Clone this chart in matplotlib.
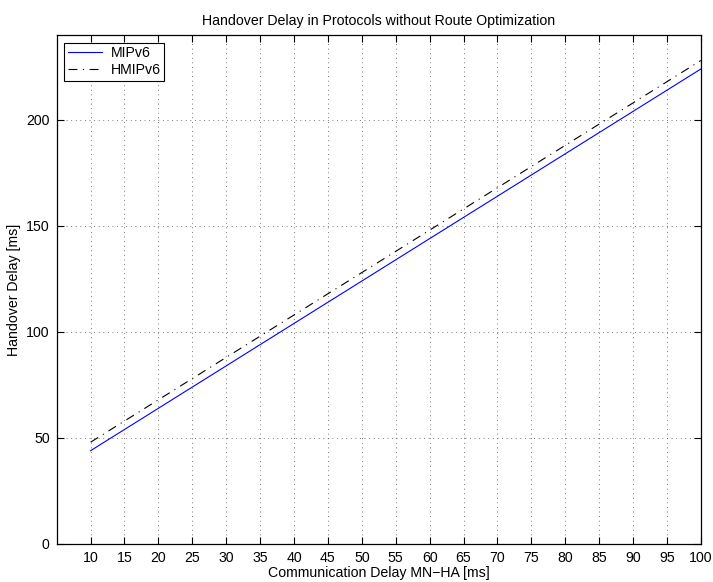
import matplotlib
matplotlib.use("Agg")
import matplotlib.pyplot as plt

plt.rcParams['font.family'] = ['Liberation Sans', 'DejaVu Sans']

# Communication delay MN-HA [ms]
comm_delay = [10, 20, 30, 40, 50, 60, 70, 80, 90, 100]
# Handover delay [ms]
mipv6 = [44, 64, 84, 104, 124, 144, 164, 184, 204, 224]
hmipv6 = [48, 68, 88, 108, 128, 148, 168, 188, 208, 228]

x_ticks = [10, 15, 20, 25, 30, 35, 40, 45, 50, 55, 60, 65, 70, 75, 80, 85, 90, 95, 100]
y_ticks = [0, 50, 100, 150, 200]

FS = 10.2

fig = plt.figure(figsize=(7.13, 5.82), dpi=100)
ax = fig.add_axes([0.0795, 0.0653, 0.9035, 0.8745])

ax.plot(comm_delay, mipv6, color='blue', lw=0.8, label='MIPv6')
ax.plot(comm_delay, hmipv6, color='black', lw=0.8,
        linestyle=(0, (8, 5, 1, 5)), label='HMIPv6')

ax.set_xlim(5, 100)
ax.set_ylim(0, 240)
ax.set_xticks(x_ticks)
ax.set_yticks(y_ticks)

ax.grid(True, color='0.3', linestyle=(0, (1, 4.5)), lw=0.6)
ax.tick_params(direction='in', top=True, right=True, length=5,
               width=0.8, labelsize=FS, pad=5)
for s in ax.spines.values():
    s.set_linewidth(0.9)

ax.set_title('Handover Delay in Protocols without Route Optimization',
             fontsize=FS, pad=7)
ax.set_xlabel('Communication Delay MN\u2212HA [ms]', fontsize=FS, labelpad=1)
ax.set_ylabel('Handover Delay [ms]', fontsize=FS, labelpad=4)

leg = ax.legend(loc='upper left', fontsize=FS, fancybox=False,
                framealpha=1, edgecolor='black', handlelength=2.4,
                borderpad=0.25, labelspacing=0.2, handletextpad=0.6,
                borderaxespad=0.55)
leg.get_frame().set_linewidth(0.8)

fig.savefig('out.png', dpi=100)
